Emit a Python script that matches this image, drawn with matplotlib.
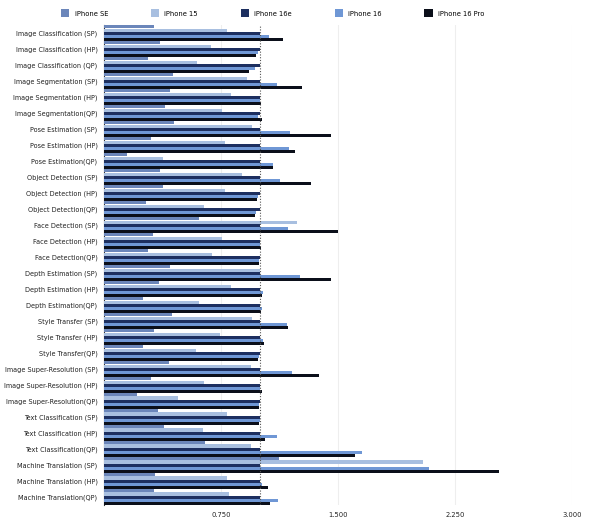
import matplotlib
matplotlib.use("Agg")
import matplotlib.pyplot as plt
import numpy as np

plt.rcParams['font.family'] = ['DejaVu Sans']
plt.rcParams['font.stretch'] = 'condensed'

categories = [
    "Image Classification (SP)", "Image Classification (HP)", "Image Classification (QP)",
    "Image Segmentation (SP)", "Image Segmentation (HP)", "Image Segmentation(QP)",
    "Pose Estimation (SP)", "Pose Estimation (HP)", "Pose Estimation(QP)",
    "Object Detection (SP)", "Object Detection (HP)", "Object Detection(QP)",
    "Face Detection (SP)", "Face Detection (HP)", "Face Detection(QP)",
    "Depth Estimation (SP)", "Depth Estimation (HP)", "Depth Estimation(QP)",
    "Style Transfer (SP)", "Style Transfer (HP)", "Style Transfer(QP)",
    "Image Super-Resolution (SP)", "Image Super-Resolution (HP)", "Image Super-Resolution(QP)",
    "Text Classification (SP)", "Text Classification (HP)", "Text Classification(QP)",
    "Machine Translation (SP)", "Machine Translation (HP)", "Machine Translation(QP)",
]

iphone_se = [0.315, 0.357, 0.277, 0.440, 0.421, 0.391, 0.445, 0.300, 0.143, 0.357,
             0.374, 0.266, 0.604, 0.309, 0.279, 0.419, 0.351, 0.247, 0.432, 0.319,
             0.247, 0.415, 0.300, 0.209, 0.343, 0.381, 0.643, 1.117, 0.323, 0.317]
iphone_15 = [0.783, 0.683, 0.594, 0.913, 0.809, 0.757, 0.945, 0.774, 0.374, 0.879,
             0.774, 0.638, 1.232, 0.757, 0.691, 0.998, 0.809, 0.609, 0.945, 0.740,
             0.585, 0.940, 0.638, 0.470, 0.787, 0.630, 0.938, 2.040, 0.787, 0.796]
iphone_16e = [1.0] * 30
iphone_16 = [1.055, 0.983, 0.968, 1.108, 1.000, 0.987, 1.190, 1.183, 1.083, 1.126,
             0.983, 0.974, 1.179, 0.996, 0.994, 1.257, 1.019, 1.011, 1.170, 1.019,
             0.991, 1.202, 1.000, 0.991, 1.000, 1.108, 1.653, 2.079, 1.009, 1.113]
iphone_16_pro = [1.145, 0.972, 0.930, 1.266, 1.006, 1.011, 1.453, 1.223, 1.083, 1.323,
                 0.979, 0.966, 1.500, 1.004, 0.994, 1.453, 1.013, 1.002, 1.174, 1.021,
                 0.987, 1.374, 1.009, 0.989, 0.989, 1.030, 1.604, 2.528, 1.051, 1.062]

series = [
    ("iPhone SE", iphone_se, "#6b86ba"),
    ("iPhone 15", iphone_15, "#a8bfe0"),
    ("iPhone 16e", iphone_16e, "#1d2f60"),
    ("iPhone 16", iphone_16, "#6f97d5"),
    ("iPhone 16 Pro", iphone_16_pro, "#0b0f1a"),
]

fig = plt.figure(figsize=(5.9, 5.24), dpi=100)
ax = fig.add_axes([0.177, 0.036, 0.793, 0.916])

y = np.arange(len(categories))
h = 0.19
for i, (name, vals, col) in enumerate(series):
    ax.barh(y + (i - 2) * 0.195, vals, height=h, color=col, label=name, zorder=3)

# iPhone 16e baseline
ax.axvline(1.0, color="#555555", linestyle=(0, (1, 1.5)), linewidth=0.8, zorder=4)

ax.set_xlim(0, 3.0)
ax.set_ylim(len(categories) - 0.5, -0.5)
ax.set_yticks(y)
ax.set_yticklabels(categories, fontsize=5.2, color="#222222")
ax.set_xticks([0.75, 1.5, 2.25, 3.0])
ax.set_xticklabels(["0.750", "1.500", "2.250", "3.000"], fontsize=5.4, color="#222222")
ax.tick_params(length=0, pad=5)
ax.grid(axis="x", color="#eeeeee", linewidth=0.8, zorder=0)
for s in ["top", "right", "bottom"]:
    ax.spines[s].set_visible(False)
ax.spines["left"].set_color("#333333")
ax.spines["left"].set_linewidth(0.8)

fig.legend(loc="upper left", bbox_to_anchor=(0.092, 0.995), ncol=5, frameon=False,
           fontsize=5.4, handlelength=1.1, handleheight=1.1, columnspacing=5.7,
           handletextpad=0.7)

fig.savefig("out.png", dpi=100)
